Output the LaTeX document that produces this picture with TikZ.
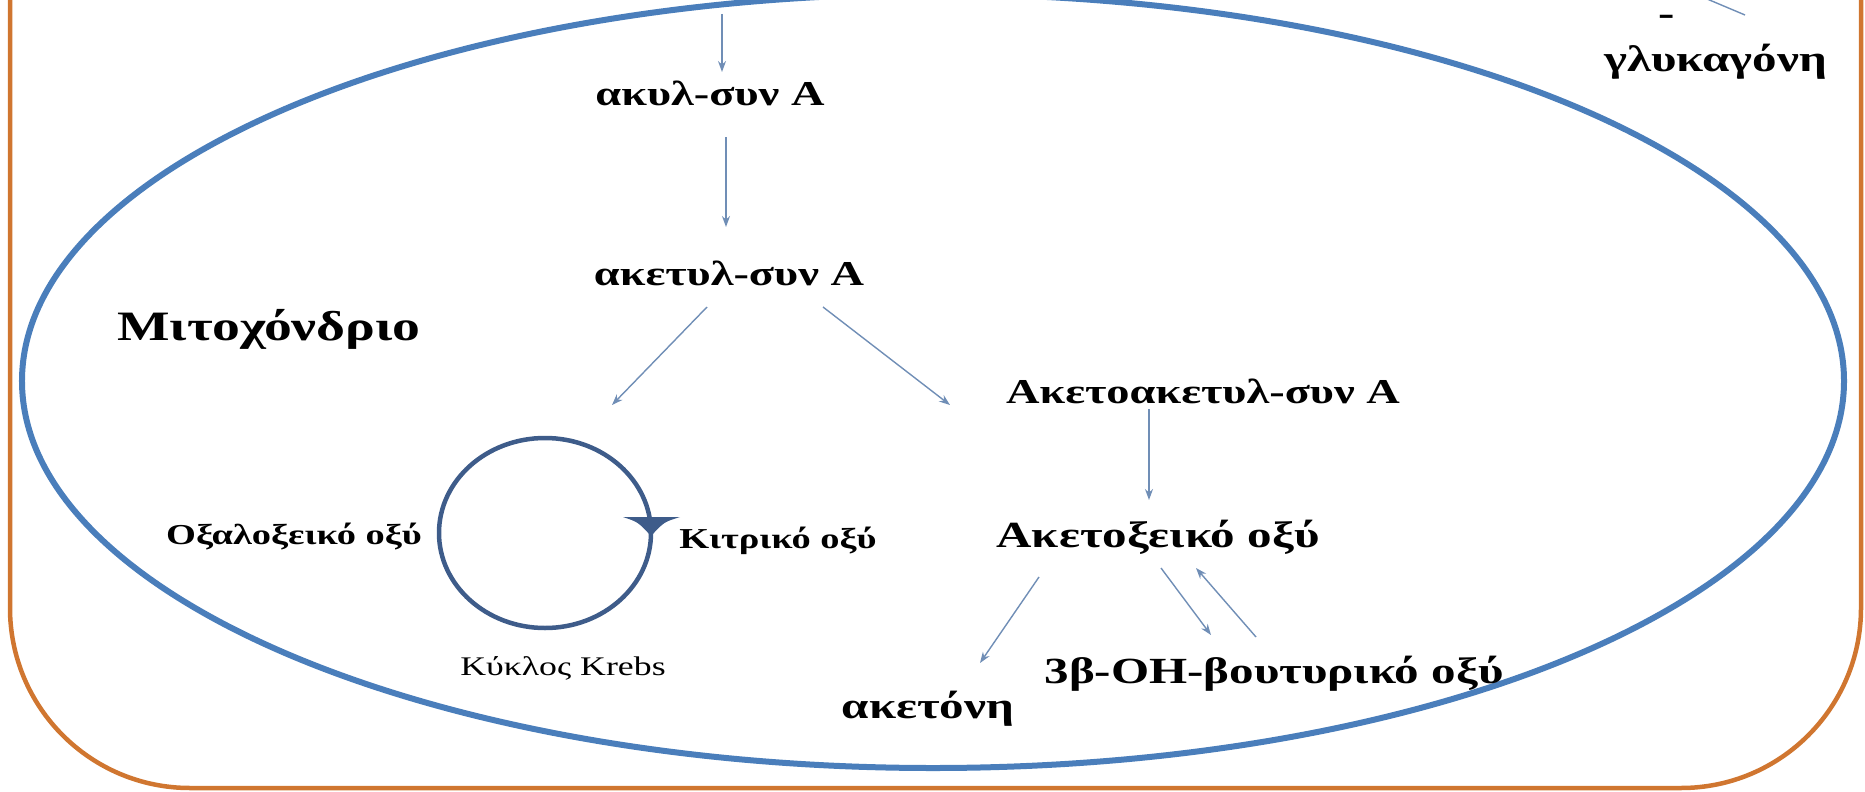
\documentclass[tikz,border=0pt]{standalone}
\usepackage{fontspec}
\usepackage{graphicx}
\setmainfont{Liberation Serif}
\usetikzlibrary{arrows.meta,calc}

\definecolor{membrane}{RGB}{74,126,187}
\definecolor{cellwall}{RGB}{208,118,48}
\definecolor{flow}{RGB}{112,142,182}
\definecolor{krebsline}{RGB}{62,92,138}

% wide lettering
\newcommand\wt[1]{\scalebox{1.33}[1]{#1}}

\begin{document}
\begin{tikzpicture}[x=1bp,y=-1bp,
  lbl/.style={font=\bfseries\fontsize{35}{40}\selectfont, inner sep=0pt, anchor=base},
  biglbl/.style={lbl, font=\bfseries\fontsize{42}{46}\selectfont},
  midlbl/.style={lbl, font=\bfseries\fontsize{37}{42}\selectfont},
  smalllbl/.style={lbl, font=\bfseries\fontsize{29}{33}\selectfont},
  plainlbl/.style={lbl, font=\fontsize{27}{31}\selectfont},
  flowarrow/.style={draw=flow, line width=1.4bp, -{Stealth[length=11bp,width=8bp]}},
]
\useasboundingbox (0,0) rectangle (1865,792);

% cell boundary (its top edge lies above the visible area)
\draw[cellwall, line width=4.5bp, rounded corners=180bp]
  (10,-300) -- (10,788) -- (1861,788) -- (1861,-300);

% mitochondrial membrane
\draw[membrane, line width=6bp] (933,381) ellipse [x radius=911bp, y radius=387bp];

% labels (placed on their baselines)
\node[lbl] (acyl) at (710,105) {\wt{ακυλ-συν A}};
\node[lbl] (acetyl) at (729,285) {\wt{ακετυλ-συν A}};
\node[biglbl] (mito) at (269,340) {\wt{Μιτοχόνδριο}};
\node[lbl] (acac) at (1203,403) {\wt{Ακετοακετυλ-συν A}};
\node[midlbl] (acet) at (1158,547) {\wt{Ακετοξεικό οξύ}};
\node[smalllbl] (oxal) at (294,544) {\wt{Οξαλοξεικό οξύ}};
\node[smalllbl] (citr) at (778,548) {\wt{Κιτρικό οξύ}};
\node[plainlbl] (krebsname) at (563,675) {\wt{Κύκλος Krebs}};
\node[midlbl] (acetone) at (928,718) {\wt{ακετόνη}};
\node[midlbl] (hb) at (1274,683) {\wt{3β-OH-βουτυρικό οξύ}};
\node[midlbl] (glucagon) at (1716,72) {\wt{γλυκαγόνη}};
\node[midlbl, anchor=center] (minus) at (1667,20) {\wt{-}};

% free ends of connectors
\coordinate (cytoin) at (722,14);
\coordinate (toKrebs) at (612,405);
\coordinate (glucin) at (1700,-4);

% Krebs cycle
\draw[krebsline, line width=4.5bp] (545,533) ellipse [x radius=106bp, y radius=95bp];
\fill[krebsline] (623,517) -- (680,517) .. controls (664,522) .. (651,536)
  .. controls (638,522) .. (623,517) -- cycle;

% pathway arrows
\draw[flowarrow] (cytoin) -- ($(acyl.base)+(12,-33)$);
\draw[flowarrow] ($(acyl.base)+(16,32)$) -- ($(acetyl.base)+(-3,-58)$);
\draw[flowarrow] ($(acetyl.base)+(-22,22)$) -- (toKrebs);
\draw[flowarrow] ($(acetyl.base)+(94,22)$) -- ($(acac.base)+(-253,2)$);
\draw[flowarrow] ($(acac.base)+(-54,6)$) -- ($(acet.base)+(-9,-47)$);
\draw[flowarrow] ($(acet.base)+(-119,30)$) -- ($(acetone.base)+(52,-55)$);
\draw[flowarrow] ($(acet.base)+(3,21)$) -- ($(hb.base)+(-63,-48)$);
\draw[flowarrow] ($(hb.base)+(-18,-46)$) -- ($(acet.base)+(38,21)$);
\draw[flow, line width=1.4bp] (glucin) -- ($(minus.center)+(78,-5)$);
\end{tikzpicture}
\end{document}
